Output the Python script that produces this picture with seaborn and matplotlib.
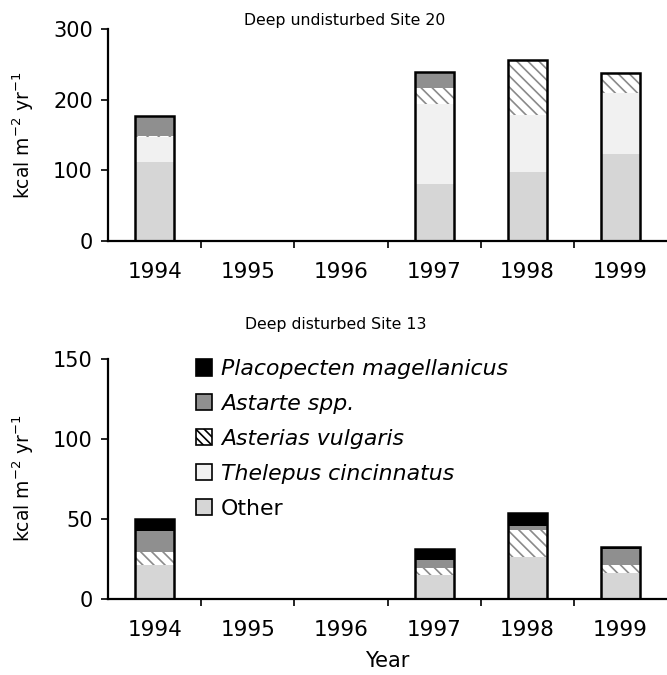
import numpy as np
import pandas as pd
import matplotlib
matplotlib.use("Agg")
import matplotlib.pyplot as plt
from matplotlib.patches import Patch
from matplotlib.ticker import FixedLocator
import seaborn as sns

sns.set_theme(style="ticks")
plt.rcParams['font.family'] = ['DejaVu Sans']
plt.rcParams['hatch.linewidth'] = 1.2
for k in ['text.color', 'axes.labelcolor', 'xtick.color', 'ytick.color']:
    plt.rcParams[k] = 'black'

years = ["1994", "1995", "1996", "1997", "1998", "1999"]
species = ["Placopecten magellanicus", "Astarte spp.", "Asterias vulgaris",
           "Thelepus cincinnatus", "Other"]

# Site 20 (deep undisturbed), kcal m-2 yr-1 ; NaN = no sample
s20_other = [112, np.nan, np.nan, 81, 98, 123]
s20_thelepus = [35, np.nan, np.nan, 113, 80, 87]
s20_asterias = [2, np.nan, np.nan, 23, 78, 28]
s20_astarte = [28, np.nan, np.nan, 23, 0, 0]
s20_placo = [0, np.nan, np.nan, 0, 0, 0]

# Site 13 (deep disturbed)
s13_other = [21, np.nan, np.nan, 15, 26, 16]
s13_thelepus = [0, np.nan, np.nan, 0, 0, 0]
s13_asterias = [8, np.nan, np.nan, 4, 17, 5]
s13_astarte = [13.5, np.nan, np.nan, 5.5, 2.5, 10]
s13_placo = [7.5, np.nan, np.nan, 6.5, 8, 1.3]

colors = {"Placopecten magellanicus": "#000000", "Astarte spp.": "#8f8f8f",
          "Asterias vulgaris": "#ffffff", "Thelepus cincinnatus": "#f1f1f1",
          "Other": "#d6d6d6"}

W = 0.42


def draw(ax, other, thel, aster, astar, placo, ymax, yticks, title_y, title, title_x):
    layers = [("Other", other), ("Thelepus cincinnatus", thel),
              ("Asterias vulgaris", aster), ("Astarte spp.", astar),
              ("Placopecten magellanicus", placo)]
    cum = []
    run = np.zeros(len(years))
    for name, vals in layers:
        run = run + np.array(vals, dtype=float)
        cum.append((name, run.copy()))
    # draw tallest cumulative first
    for name, vals in reversed(cum):
        df = pd.DataFrame({"year": years, "v": vals})
        if name == "Asterias vulgaris":
            sns.barplot(data=df, x="year", y="v", order=years, color="white",
                        width=W, ax=ax, saturation=1, edgecolor="#8a8a8a",
                        linewidth=0, hatch="\\\\\\", err_kws={'linewidth': 0})
        else:
            sns.barplot(data=df, x="year", y="v", order=years, color=colors[name],
                        width=W, ax=ax, saturation=1, linewidth=0,
                        err_kws={'linewidth': 0})
    total = cum[-1][1]
    df = pd.DataFrame({"year": years, "v": total})
    sns.barplot(data=df, x="year", y="v", order=years, fill=False, edgecolor="black",
                width=W, ax=ax, linewidth=1.8, err_kws={'linewidth': 0})
    ax.set_xlim(-0.5, 5.5)
    ax.set_ylim(0, ymax)
    ax.set_yticks(yticks)
    ax.set_yticklabels([str(t) for t in yticks], fontsize=15)
    ax.xaxis.set_minor_locator(FixedLocator(np.arange(0.5, 5.5, 1.0)))
    ax.tick_params(axis='x', which='major', length=0, pad=15, labelsize=15.5)
    ax.tick_params(axis='x', which='minor', length=5, width=1.2, direction='out', color='black')
    ax.tick_params(axis='y', length=5, width=1.2, direction='out', color='black', pad=6)
    ax.set_ylabel("kcal m$^{-2}$ yr$^{-1}$", fontsize=13.5, labelpad=12)
    for s in ["top", "right"]:
        ax.spines[s].set_visible(False)
    for s in ["left", "bottom"]:
        ax.spines[s].set_linewidth(1.6)
        ax.spines[s].set_color("black")
    ax.figure.text(title_x, title_y, title, ha="center", va="center", fontsize=11.3)


fig = plt.figure(figsize=(6.67, 6.75), dpi=100)
ax1 = fig.add_axes([0.162, 0.6434, 0.838, 0.3132])
ax2 = fig.add_axes([0.162, 0.113, 0.838, 0.3556])

draw(ax1, s20_other, s20_thelepus, s20_asterias, s20_astarte, s20_placo,
     300, [0, 100, 200, 300], 1 - 20 / 675, "Deep undisturbed Site 20", 345 / 667)
draw(ax2, s13_other, s13_thelepus, s13_asterias, s13_astarte, s13_placo,
     150, [0, 50, 100, 150], 1 - 325 / 675, "Deep disturbed Site 13", 336 / 667)
ax1.set_xlabel("")
ax2.set_xlabel("Year", fontsize=15, labelpad=8)

handles = []
for name in species:
    if name == "Asterias vulgaris":
        handles.append(Patch(facecolor="white", edgecolor="black", hatch="\\\\\\\\", linewidth=1.2))
    else:
        handles.append(Patch(facecolor=colors[name], edgecolor="black", linewidth=1.2))
labels = species
leg = ax2.legend(handles, labels, loc="upper left", bbox_to_anchor=(0.157, 0.998),
                 frameon=False, fontsize=15.8, handlelength=0.75, handleheight=0.75,
                 handletextpad=0.4, labelspacing=0.68, borderaxespad=0, borderpad=0)
for t in leg.get_texts():
    if t.get_text() != "Other":
        t.set_fontstyle("italic")

fig.savefig("out.png", dpi=100)
